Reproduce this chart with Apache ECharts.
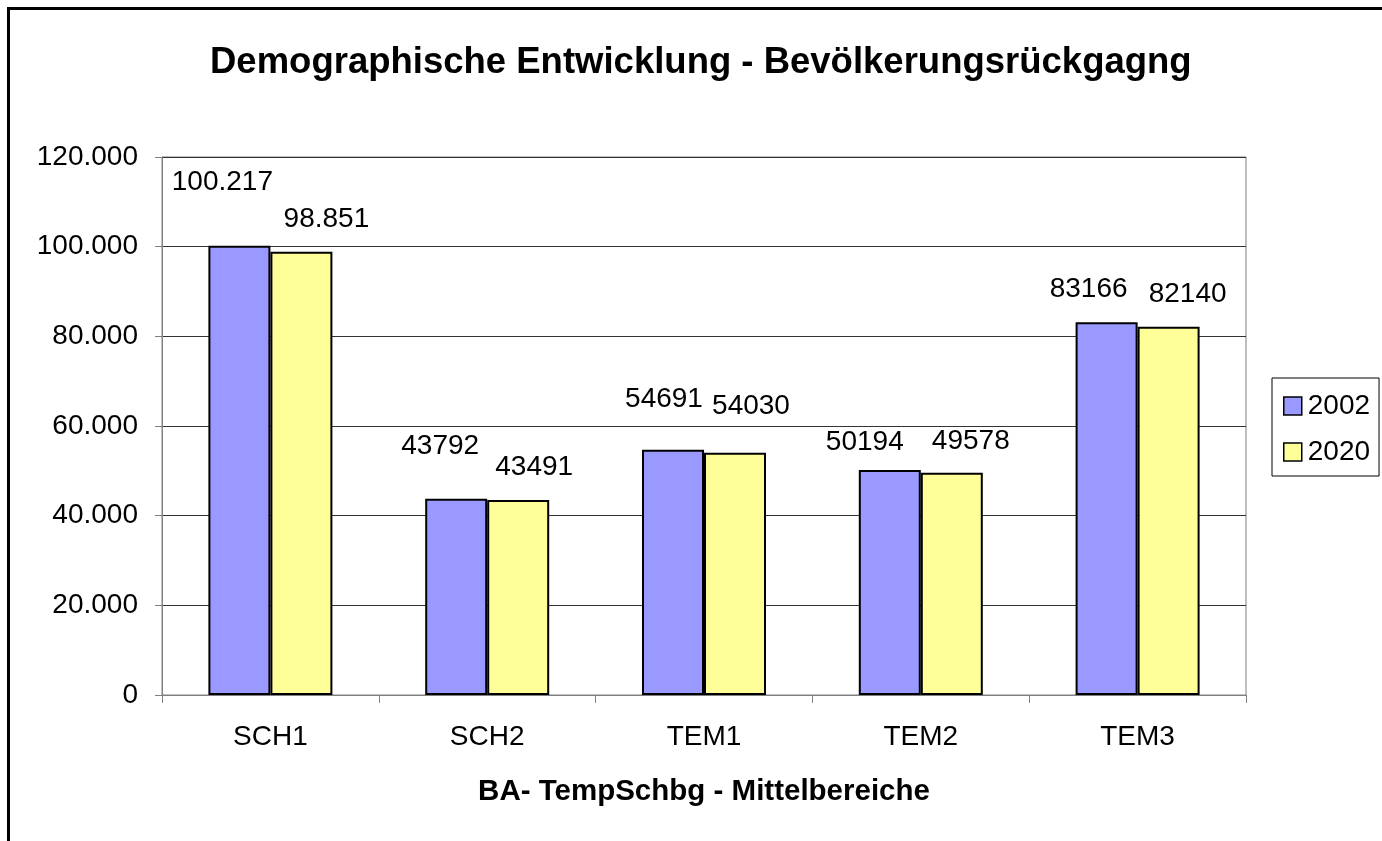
<!DOCTYPE html>
<html>
<head>
<meta charset="utf-8">
<script src="https://cdn.jsdelivr.net/npm/echarts@6/dist/echarts.min.js"></script>
<style>
html,body{margin:0;padding:0;background:#fff;}
#chart{width:1382px;height:841px;}
</style>
</head>
<body>
<div id="chart"></div>
<script>
// ---- data ----
const categories = ['SCH1', 'SCH2', 'TEM1', 'TEM2', 'TEM3'];
const seriesNames = ['2002', '2020'];
const values2002 = [100217, 43792, 54691, 50194, 83166];
const values2020 = [98851, 43491, 54030, 49578, 82140];
const labelText2002 = ['100.217', '43792', '54691', '50194', '83166'];
const labelText2020 = ['98.851', '43491', '54030', '49578', '82140'];
const yTicks = [0, 20000, 40000, 60000, 80000, 100000, 120000];

// label nudges (layout only, relative to each bar's top-centre)
const nudge2002 = [[-17, -49], [-16, -38], [-9, -37], [-25, -14], [-18, -19]];
const nudge2020 = [[25, -19], [16, -19], [16, -32], [19, -17], [19, -18]];

const FONT = '"Liberation Sans", Arial, Helvetica, sans-serif';

function fmtDe(v) {
  return String(v).replace(/\B(?=(\d{3})+(?!\d))/g, '.');
}

function buildData(vals, texts, nudges) {
  return vals.map((v, i) => ({
    value: v,
    label: { offset: nudges[i], formatter: texts[i] }
  }));
}

const chart = echarts.init(document.getElementById('chart'), null, { renderer: 'canvas' });

const option = {
  backgroundColor: '#ffffff',
  animation: false,
  textStyle: { fontFamily: FONT },
  title: {
    text: 'Demographische Entwicklung - Bevölkerungsrückgagng',
    left: 210,
    top: 44,
    padding: 0,
    textStyle: { fontFamily: FONT, fontSize: 36.5, fontWeight: 'bold', color: '#000' }
  },
  legend: {
    data: seriesNames,
    orient: 'vertical',
    left: 1272,
    top: 378,
    padding: [14, 9, 10, 11],
    itemGap: 18,
    itemWidth: 18,
    itemHeight: 18,
    icon: 'rect',
    borderColor: '#000',
    borderWidth: 1,
    itemStyle: { borderColor: '#000', borderWidth: 1.5 },
    textStyle: { fontFamily: FONT, fontSize: 28, color: '#000', padding: [0, 0, 0, 1] }
  },
  grid: {
    left: 162,
    top: 157,
    right: 136,
    bottom: 146,
    show: true,
    borderColor: '#808080',
    borderWidth: 1,
    backgroundColor: 'transparent',
    containLabel: false
  },
  xAxis: {
    type: 'category',
    data: categories,
    name: 'BA- TempSchbg - Mittelbereiche',
    nameLocation: 'middle',
    nameGap: 82,
    nameTextStyle: { fontFamily: FONT, fontSize: 29.5, fontWeight: 'bold', color: '#000' },
    axisLine: { lineStyle: { color: '#808080', width: 1 } },
    axisTick: { show: true, length: 8, lineStyle: { color: '#808080' }, alignWithLabel: false },
    axisLabel: { margin: 28, fontFamily: FONT, fontSize: 28, color: '#000' },
    splitLine: { show: false }
  },
  yAxis: {
    type: 'value',
    min: yTicks[0],
    max: yTicks[yTicks.length - 1],
    interval: yTicks[1] - yTicks[0],
    axisLine: { show: true, lineStyle: { color: '#808080', width: 1 } },
    axisTick: { show: true, length: 7, lineStyle: { color: '#808080' } },
    axisLabel: {
      margin: 24,
      fontFamily: FONT,
      fontSize: 28,
      color: '#000',
      formatter: v => (v === 0 ? '0' : fmtDe(v))
    },
    splitLine: { show: true, lineStyle: { color: '#333', width: 1 } }
  },
  series: [
    {
      name: seriesNames[0],
      type: 'bar',
      barWidth: 62,
      barGap: '0%',
      data: buildData(values2002, labelText2002, nudge2002),
      itemStyle: { color: '#9999FF', borderColor: '#000', borderWidth: 2 },
      label: { show: true, position: 'top', distance: 0, fontFamily: FONT, fontSize: 28, color: '#000' }
    },
    {
      name: seriesNames[1],
      type: 'bar',
      barWidth: 62,
      barGap: '0%',
      data: buildData(values2020, labelText2020, nudge2020),
      itemStyle: { color: '#FFFF99', borderColor: '#000', borderWidth: 2 },
      label: { show: true, position: 'top', distance: 0, fontFamily: FONT, fontSize: 28, color: '#000' }
    }
  ],
  graphic: [
    {
      type: 'rect',
      z: 100,
      silent: true,
      shape: { x: 8.5, y: 8.5, width: 1420, height: 900 },
      style: { fill: 'none', stroke: '#000', lineWidth: 3 }
    }
  ]
};

chart.setOption(option);
</script>
</body>
</html>
